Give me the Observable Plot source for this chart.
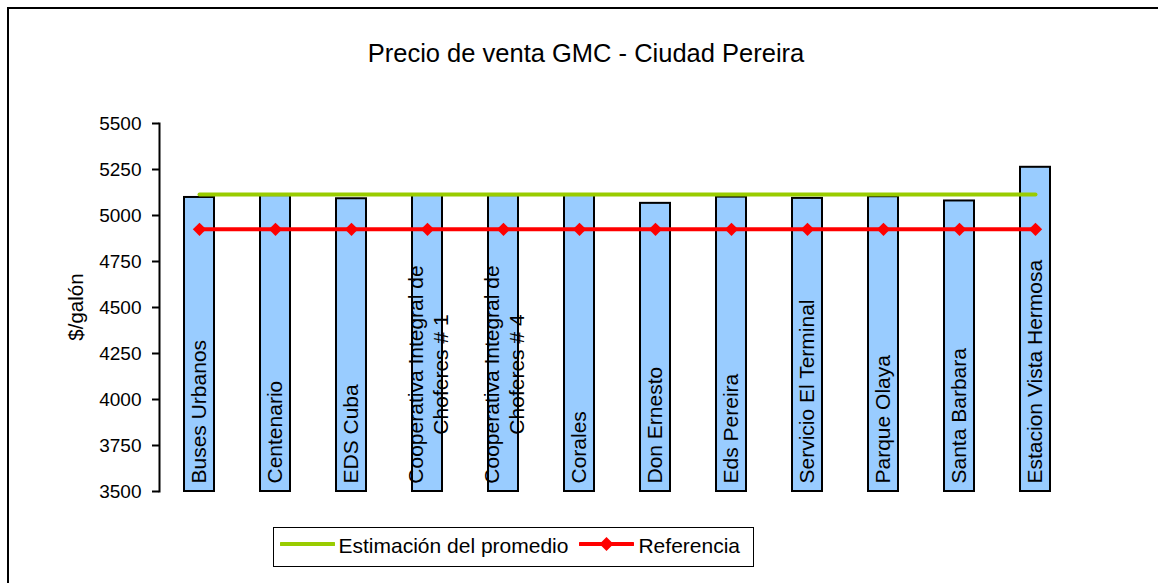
<!DOCTYPE html>
<html>
<head>
<meta charset="utf-8">
<script src="https://cdn.jsdelivr.net/npm/d3@7"></script>
<script src="https://cdn.jsdelivr.net/npm/@observablehq/plot@0.6"></script>
<style>
  html, body { margin: 0; padding: 0; background: #fff; }
  #wrap { position: relative; width: 1158px; height: 583px; overflow: hidden; font-family: 'Liberation Sans', Arial, sans-serif; color: #000; }
  #frameBox { position: absolute; left: 7px; top: 7px; width: 1300px; height: 700px; border-left: 2px solid #000; border-top: 2px solid #000; }
  #title { position: absolute; left: 8px; width: 1156px; top: 41px; text-align: center; font-size: 25.5px; line-height: 1; }
  #ylabel { position: absolute; left: 76px; top: 307px; transform: translate(-50%, -50%) rotate(-90deg); font-size: 20.5px; line-height: 1; white-space: nowrap; }
  #chart { position: absolute; left: 0; top: 0; }
  #legend { position: absolute; left: 273px; top: 527px; width: 481px; height: 40px; box-sizing: border-box; border: 1.5px solid #000; display: flex; align-items: center; padding-left: 6px; font-size: 21px; line-height: 1; background: #fff; }
  #legend .sw { position: relative; top: -3px; }
  #legend .lab { position: relative; top: -2px; white-space: nowrap; }
</style>
</head>
<body>
<div id="wrap">
  <div id="frameBox"></div>
  <div id="chart"></div>
  <div id="title"></div>
  <div id="ylabel"></div>
  <div id="legend"></div>
</div>
<script>
// ---- data ----
const titleText = "Precio de venta GMC - Ciudad Pereira";
const yLabel = "$/galón";
const stations = [
  "Buses Urbanos",
  "Centenario",
  "EDS Cuba",
  "Cooperativa Integral de\nChoferes # 1",
  "Cooperativa Integral de\nChoferes # 4",
  "Corales",
  "Don Ernesto",
  "Eds Pereira",
  "Servicio El Terminal",
  "Parque Olaya",
  "Santa Barbara",
  "Estacion Vista Hermosa"
];
const prices = [5098, 5108, 5091, 5110, 5108, 5110, 5066, 5100, 5093, 5102, 5079, 5262];
const estimacion = [5114, 5114, 5114, 5114, 5114, 5114, 5114, 5114, 5114, 5114, 5114, 5114];
const referencia = [4925, 4925, 4925, 4925, 4925, 4925, 4925, 4925, 4925, 4925, 4925, 4925];
const yDomain = [3500, 5500];
const yTicks = [3500, 3750, 4000, 4250, 4500, 4750, 5000, 5250, 5500];
const seriesNames = ["Estimación del promedio", "Referencia"];
const seriesColors = ["#99CC00", "#FF0000"];
const barColor = "#99CCFF";

// ---- table ----
const rows = stations.map((s, i) => ({station: s, price: prices[i], est: estimacion[i], ref: referencia[i]}));
const singleRows = rows.filter(d => !d.station.includes("\n"));
const doubleRows = rows.filter(d => d.station.includes("\n"));

const fontFamily = "'Liberation Sans', Arial, sans-serif";

const chart = Plot.plot({
  width: 1158,
  height: 520,
  marginTop: 123,
  marginBottom: 29,
  marginLeft: 159,
  marginRight: 82,
  style: {fontFamily, fontSize: "19px", color: "black", background: "transparent", overflow: "visible"},
  x: {domain: stations, type: "band", paddingInner: 0.6, paddingOuter: 0.3, axis: null},
  y: {domain: yDomain, axis: null},
  marks: [
    Plot.barY(rows, {x: "station", y1: yDomain[0], y2: "price", fill: barColor, stroke: "black", strokeWidth: 2}),
    Plot.text(singleRows, {x: "station", frameAnchor: "bottom", text: "station", rotate: -90, textAnchor: "start", lineAnchor: "middle", fontSize: 21, fill: "black", dy: -8}),
    Plot.text(doubleRows, {x: "station", frameAnchor: "bottom", text: "station", rotate: -90, textAnchor: "middle", lineAnchor: "middle", lineHeight: 1.2, fontSize: 21, fill: "black", dy: -117}),
    Plot.lineY(rows, {x: "station", y: "est", stroke: seriesColors[0], strokeWidth: 4, strokeLinecap: "round"}),
    Plot.lineY(rows, {x: "station", y: "ref", stroke: seriesColors[1], strokeWidth: 4}),
    Plot.dot(rows, {x: "station", y: "ref", symbol: "diamond2", r: 6, fill: seriesColors[1], stroke: "none"}),
    Plot.axisY({ticks: yTicks, tickSize: 7, tickPadding: 11, tickFormat: d => String(d), fontSize: 19, strokeWidth: 2, label: null}),
    Plot.frame({anchor: "left", strokeWidth: 2})
  ]
});
document.getElementById("chart").appendChild(chart);
document.getElementById("title").textContent = titleText;
document.getElementById("ylabel").textContent = yLabel;

// ---- legend ----
const legend = document.getElementById("legend");
const gaps = [11, 0];
seriesNames.forEach((name, i) => {
  const ns = "http://www.w3.org/2000/svg";
  const svg = document.createElementNS(ns, "svg");
  svg.setAttribute("width", 55);
  svg.setAttribute("height", 16);
  svg.setAttribute("class", "sw");
  const ln = document.createElementNS(ns, "line");
  ln.setAttribute("x1", 1); ln.setAttribute("x2", 54);
  ln.setAttribute("y1", 8); ln.setAttribute("y2", 8);
  ln.setAttribute("stroke", seriesColors[i]);
  ln.setAttribute("stroke-width", 4);
  ln.setAttribute("stroke-linecap", "round");
  svg.appendChild(ln);
  if (i === 1) {
    const p = document.createElementNS(ns, "path");
    p.setAttribute("d", "M27.5,1L34.5,8L27.5,15L20.5,8Z");
    p.setAttribute("fill", seriesColors[i]);
    svg.appendChild(p);
  }
  svg.style.marginRight = (i === 0 ? 3.5 : 4) + "px";
  legend.appendChild(svg);
  const span = document.createElement("span");
  span.className = "lab";
  span.textContent = name;
  span.style.marginRight = gaps[i] + "px";
  legend.appendChild(span);
});
</script>
</body>
</html>
